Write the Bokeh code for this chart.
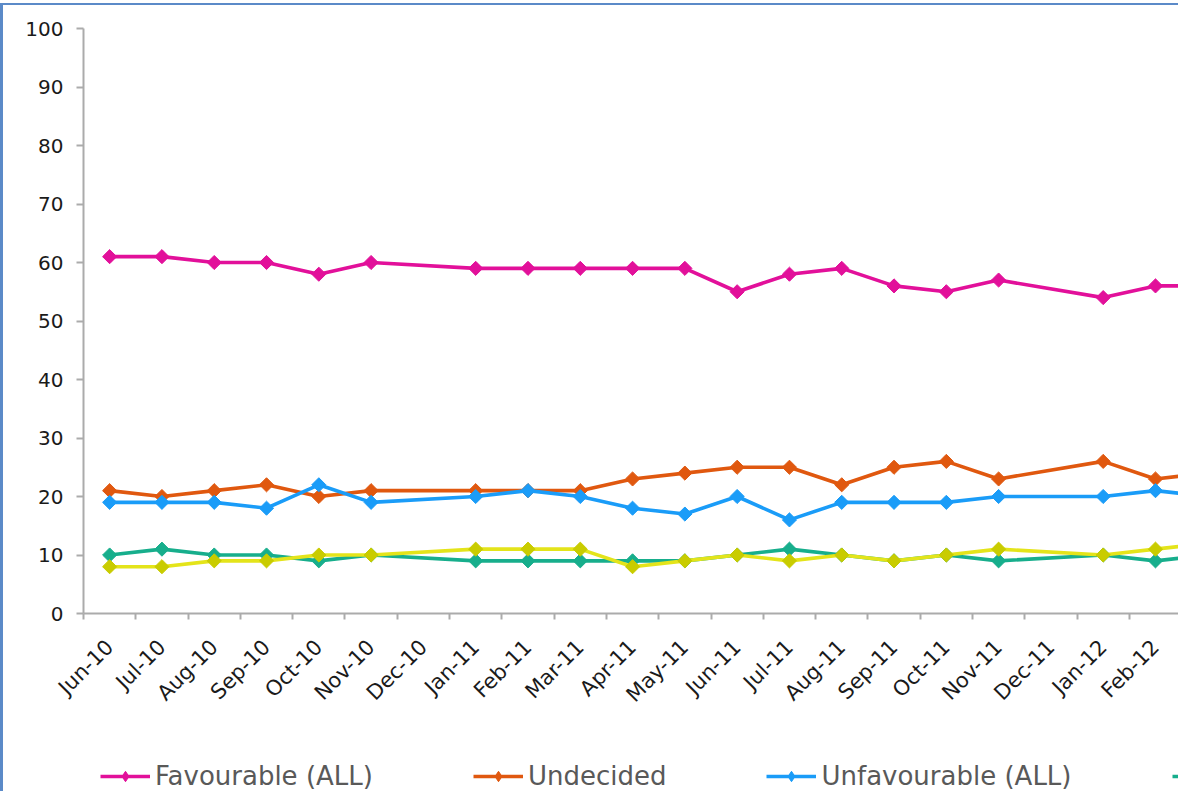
import math
from bokeh.plotting import figure
from bokeh.layouts import column
from bokeh.models import Range1d, FixedTicker, Legend, LegendItem
from bokeh.embed import file_html
from bokeh.resources import INLINE

months = ["Jun-10", "Jul-10", "Aug-10", "Sep-10", "Oct-10", "Nov-10", "Dec-10",
          "Jan-11", "Feb-11", "Mar-11", "Apr-11", "May-11", "Jun-11", "Jul-11",
          "Aug-11", "Sep-11", "Oct-11", "Nov-11", "Dec-11", "Jan-12", "Feb-12", "Mar-12"]

favourable = [61, 61, 60, 60, 58, 60, None, 59, 59, 59, 59, 59, 55, 58, 59, 56, 55, 57, None, 54, 56, 56]
undecided = [21, 20, 21, 22, 20, 21, None, 21, 21, 21, 23, 24, 25, 25, 22, 25, 26, 23, None, 26, 23, 24]
unfavourable = [19, 19, 19, 18, 22, 19, None, 20, 21, 20, 18, 17, 20, 16, 19, 19, 19, 20, None, 20, 21, 20]
series4 = [10, 11, 10, 10, 9, 10, None, 9, 9, 9, 9, 9, 10, 11, 10, 9, 10, 9, None, 10, 9, 10]
series5 = [8, 8, 9, 9, 10, 10, None, 11, 11, 11, 8, 9, 10, 9, 10, 9, 10, 11, None, 10, 11, 12]

series = [
    ("Favourable (ALL)", favourable, "#E2109A", "#E2109A"),
    ("Undecided", undecided, "#E0580F", "#E0580F"),
    ("Unfavourable (ALL)", unfavourable, "#1A9CF8", "#1A9CF8"),
    ("Strongly favourable", series4, "#17AE8C", "#17AE8C"),
    ("Strongly unfavourable", series5, "#E4E41A", "#C9CC00"),
]

BL = 3   # blue frame line width (left)
BT = 2   # blue frame line width (top)
TOPGAP = 3
W = 1178 - BL
TOP = 28 - BT - TOPGAP
FRAME_H = 585
BOTTOM = 108
H1 = TOP + FRAME_H + BOTTOM
H2 = 791 - TOPGAP - BT - H1
font = "DejaVu Sans"

p = figure(width=W, height=H1, output_backend="svg", toolbar_location=None,
           x_range=Range1d(-0.5, 20.44), y_range=Range1d(0, 100),
           min_border_left=83 - BL, min_border_right=0, min_border_top=TOP,
           min_border_bottom=BOTTOM)
p.outline_line_color = None
p.xgrid.visible = False
p.ygrid.visible = False
p.background_fill_color = "white"
p.border_fill_color = "white"

for name, vals, lcol, mcol in series:
    xs = [i for i, v in enumerate(vals) if v is not None]
    ys = [v for v in vals if v is not None]
    p.line(xs, ys, line_color=lcol, line_width=3.6)
    p.scatter(xs, ys, marker="square", angle=math.pi / 4, size=10,
              fill_color=mcol, line_color=mcol)

# x axis
xa = p.xaxis[0]
xa.ticker = FixedTicker(ticks=list(range(len(months))),
                        minor_ticks=[i - 0.5 for i in range(len(months) + 1)])
xa.major_label_overrides = {i: m for i, m in enumerate(months)}
xa.major_label_orientation = math.pi / 4
xa.major_tick_line_color = None
xa.major_tick_in = 0
xa.major_tick_out = 0
xa.minor_tick_in = 0
xa.minor_tick_out = 6
xa.minor_tick_line_color = "#ABABAB"
xa.minor_tick_line_width = 2
xa.axis_line_color = "#ABABAB"
xa.axis_line_width = 2
xa.major_label_text_font = font
xa.major_label_text_font_size = "21px"
xa.major_label_text_color = "#1A1A1A"
xa.major_label_standoff = 24

# y axis
ya = p.yaxis[0]
ya.ticker = FixedTicker(ticks=list(range(0, 101, 10)))
ya.minor_tick_line_color = None
ya.major_tick_in = 0
ya.major_tick_out = 7
ya.major_tick_line_color = "#ABABAB"
ya.major_tick_line_width = 2
ya.axis_line_color = "#ABABAB"
ya.axis_line_width = 2
ya.major_label_text_font = font
ya.major_label_text_font_size = "20px"
ya.major_label_text_color = "#1A1A1A"
ya.major_label_standoff = 13

# legend strip below the chart (its renderers hold the same series, outside its view)
p2 = figure(width=W, height=H2, output_backend="svg", toolbar_location=None,
            x_range=Range1d(-0.5, 20.44), y_range=Range1d(200, 201),
            x_axis_type=None, y_axis_type=None,
            min_border_left=83 - BL, min_border_right=0, min_border_top=0, min_border_bottom=0)
p2.outline_line_color = None
p2.xgrid.visible = False
p2.ygrid.visible = False
items = []
for name, vals, lcol, mcol in series:
    xs = [i for i, v in enumerate(vals) if v is not None]
    ys = [v for v in vals if v is not None]
    r1 = p2.line(xs, ys, line_color=lcol, line_width=3.4)
    r2 = p2.scatter(xs, ys, marker="diamond", size=17,
                    fill_color=mcol, line_color=mcol)
    items.append(LegendItem(label=name, renderers=[r1, r2]))

legend = Legend(items=items, orientation="horizontal", location=(17, 0),
                label_text_font=font, label_text_font_size="26px", label_text_color="#595959",
                glyph_width=50, glyph_height=26, label_standoff=5, spacing=100,
                padding=0, margin=0, border_line_color=None, background_fill_alpha=0)
p2.add_layout(legend, "center")

layout = column(p, p2, spacing=0,
                styles={"border-left": f"{BL}px solid #5B8AC8",
                        "border-top": f"{BT}px solid #5B8AC8",
                        "margin-top": f"{TOPGAP}px"})
open("out.html", "w").write(file_html(layout, INLINE))
